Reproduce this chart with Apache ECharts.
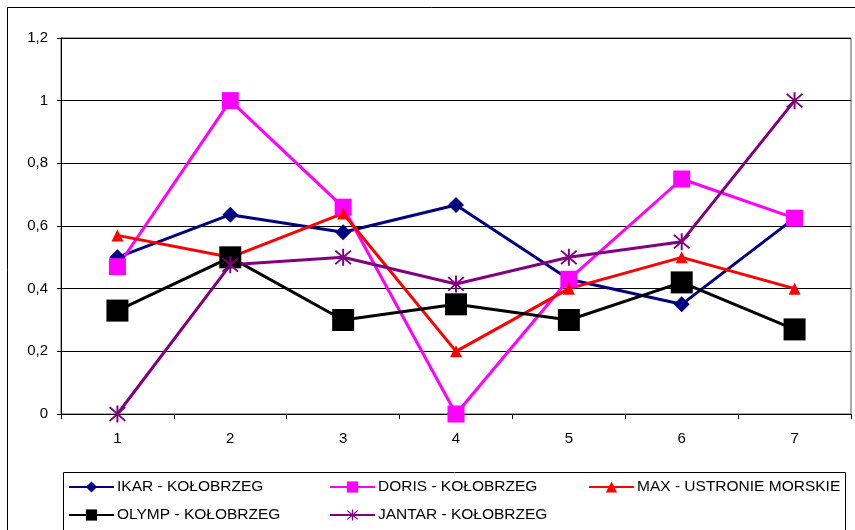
<!DOCTYPE html>
<html>
<head>
<meta charset="utf-8">
<script src="https://cdn.jsdelivr.net/npm/echarts@6/dist/echarts.min.js"></script>
<style>
  html, body { margin: 0; padding: 0; background: #fff; }
  #chart { width: 855px; height: 530px; }
</style>
</head>
<body>
<div id="chart"></div>
<script>
// Categories on the x axis
const categories = ['1', '2', '3', '4', '5', '6', '7'];

// Series values
const ikar   = [0.5, 0.636, 0.58, 0.667, 0.43, 0.35, 0.625];
const doris  = [0.47, 1.0, 0.66, 0.0, 0.43, 0.75, 0.625];
const max    = [0.57, 0.5, 0.64, 0.2, 0.4, 0.5, 0.4];
const olymp  = [0.33, 0.5, 0.3, 0.35, 0.3, 0.42, 0.27];
const jantar = [0.0, 0.476, 0.5, 0.415, 0.5, 0.55, 1.0];

const seriesNames = [
  'IKAR - KOŁOBRZEG',
  'DORIS - KOŁOBRZEG',
  'MAX - USTRONIE MORSKIE',
  'OLYMP - KOŁOBRZEG',
  'JANTAR - KOŁOBRZEG'
];

// Y axis ticks
const yMin = 0, yMax = 1.2, yStep = 0.2;

const FONT = 'Liberation Sans, Arial, sans-serif';

// Asterisk marker: a vertical bar plus two diagonals
const asterisk = 'path://M-1,-10L1,-10L1,10L-1,10Z' +
  'M-7.3,-8.7L8.7,7.3L7.3,8.7L-8.7,-7.3Z' +
  'M7.3,-8.7L8.7,-7.3L-7.3,8.7L-8.7,7.3Z';

function lineSeries(name, data, color, symbol, size) {
  return {
    name: name,
    type: 'line',
    data: data,
    symbol: symbol,
    symbolSize: size,
    showAllSymbol: true,
    lineStyle: { color: color, width: 3 },
    itemStyle: { color: color, borderWidth: 0 },
    emphasis: { disabled: true },
    z: 3
  };
}

const chart = echarts.init(document.getElementById('chart'), null, { renderer: 'canvas' });

const legendCommon = {
  orient: 'vertical',
  padding: 0,
  height: 50,
  itemWidth: 45,
  itemHeight: 14,
  itemGap: 12,
  textStyle: { fontFamily: FONT, fontSize: 15.5, color: '#000', padding: [0, 0, 0, -2] },
  selectedMode: false
};

chart.setOption({
  animation: false,
  backgroundColor: '#fff',
  grid: { left: 61, top: 38, right: 4, bottom: 116, show: true, borderColor: '#555', borderWidth: 1 },
  xAxis: {
    type: 'category',
    data: categories,
    boundaryGap: true,
    axisLine: { lineStyle: { color: '#000', width: 1 } },
    axisTick: { show: true, length: 5, lineStyle: { color: '#000' } },
    axisLabel: { color: '#000', fontFamily: FONT, fontSize: 15, margin: 17 },
    splitLine: { show: false }
  },
  yAxis: {
    type: 'value',
    min: yMin,
    max: yMax,
    interval: yStep,
    axisLine: { show: true, lineStyle: { color: '#000', width: 1 } },
    axisTick: { show: true, length: 4, lineStyle: { color: '#000' } },
    axisLabel: {
      color: '#000', fontFamily: FONT, fontSize: 15, margin: 13,
      formatter: v => String(Math.round(v * 10) / 10).replace('.', ',')
    },
    splitLine: { show: true, lineStyle: { color: '#000', width: 1 } }
  },
  legend: [
    Object.assign({ left: 68, top: 479, data: [seriesNames[0], seriesNames[3]] }, legendCommon),
    Object.assign({ left: 329, top: 479, data: [seriesNames[1], seriesNames[4]] }, legendCommon),
    Object.assign({ left: 588, top: 479, data: [seriesNames[2]] }, legendCommon)
  ],
  graphic: [
    {
      type: 'rect', silent: true, z: -1,
      shape: { x: 7.5, y: 7.5, width: 860, height: 540 },
      style: { fill: 'none', stroke: '#000', lineWidth: 1 }
    },
    {
      type: 'rect', silent: true, z: -1,
      shape: { x: 63.5, y: 472.5, width: 782, height: 80 },
      style: { fill: '#fff', stroke: '#000', lineWidth: 1 }
    }
  ],
  series: [
    lineSeries(seriesNames[0], ikar, '#000080', 'diamond', 16),
    lineSeries(seriesNames[1], doris, '#FF00FF', 'rect', 17),
    lineSeries(seriesNames[2], max, '#FF0000', 'triangle', 12),
    lineSeries(seriesNames[3], olymp, '#000000', 'rect', 22),
    lineSeries(seriesNames[4], jantar, '#800080', asterisk, 17)
  ]
});
</script>
</body>
</html>
